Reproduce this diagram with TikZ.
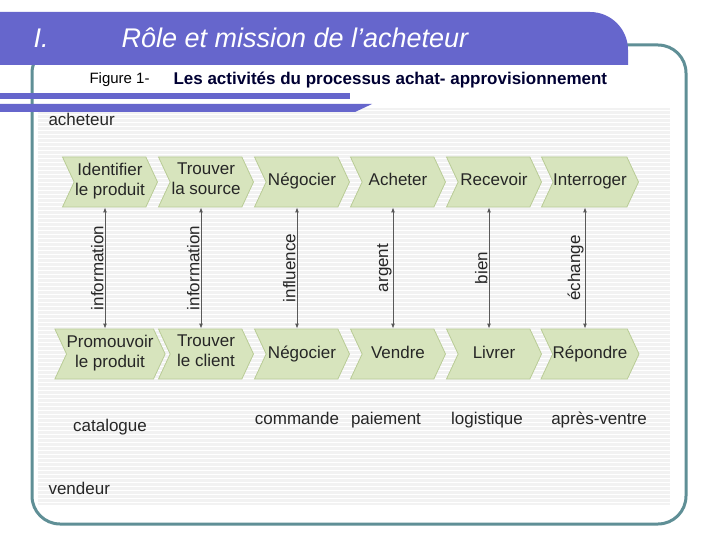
\documentclass[tikz,border=0pt]{standalone}
\usepackage{fontspec}
\setmainfont{Liberation Sans}
\usetikzlibrary{shapes.symbols,arrows.meta}
\definecolor{hdr}{HTML}{6666CC}
\definecolor{teal}{HTML}{5F8F96}
\definecolor{chev}{HTML}{D7E4BD}
\definecolor{chevb}{HTML}{B9CC96}
\definecolor{panel}{HTML}{F2F2F2}
\tikzset{
 chv/.style={shape=signal, signal from=west, signal to=east, signal pointer angle=130, fill=chev, draw=chevb, line width=0.8pt, minimum width=95pt, minimum height=50pt, inner sep=0pt, align=center, font=\fontsize{17}{20}\selectfont, text=black!85, execute at begin node=\strut, execute at end node=\strut},
 lnk/.style={gray!70!black, line width=0.9pt, {Latex[length=5pt,width=4pt]}-{Latex[length=5pt,width=4pt]}},
 lbl/.style={font=\fontsize{17}{18}\selectfont, rotate=90, text=black!85, inner sep=1pt},
 side/.style={font=\fontsize{17}{18}\selectfont, text=black!85, anchor=base}
}
\begin{document}
\begin{tikzpicture}[x=1pt,y=-1pt]
\useasboundingbox (0,0) rectangle (720,540);
\fill[white] (0,0) rectangle (720,540);
\draw[teal, line width=3pt, rounded corners=28pt] (32,45) rectangle (686,524);
\fill[panel] (38,108) rectangle (670,505);
\foreach \yy in {110,114,...,504} \draw[white, line width=0.6pt] (38,\yy) -- (670,\yy);
\fill[hdr] (0,12) -- (590,12) to[out=0,in=90] (628,50) -- (628,65) -- (0,65) -- cycle;
\node[font=\itshape\fontsize{27}{28}\selectfont, text=white, anchor=west] (t1) at (30,38) {I.};
\node[font=\itshape\fontsize{27}{28}\selectfont, text=white, anchor=west] (t2) at (118,38) {Rôle et mission de l’acheteur};
\fill[hdr] (0,93) -- (350,93) -- (350,99) -- (0,99) -- cycle;
\fill[hdr] (0,104) -- (372,104) -- (355,112) -- (0,112) -- cycle;
\node[anchor=west, font=\fontsize{15}{16}\selectfont] (fig) at (86,80) {Figure 1-};
\node[anchor=west, font=\bfseries\fontsize{17}{18}\selectfont, text=black!80!blue] (cap) at (170,80) {Les activités du processus achat- approvisionnement};
\node[side, anchor=base west] (ach) at (45,126) {acheteur};
\node[side, anchor=base west] (ven) at (45,494) {vendeur};
\node[chv] (a1) at (110,182) {Identifier\\le produit};
\node[chv] (a2) at (206,182) {Trouver\\la source};
\node[chv] (a3) at (302,182) {Négocier};
\node[chv] (a4) at (398,182) {Acheter};
\node[chv] (a5) at (494,182) {Recevoir};
\node[chv] (a6) at (590,182) {Interroger};
\node[chv] (b1) at (110,354) {Promouvoir\\le produit};
\node[chv] (b2) at (206,354) {Trouver\\le client};
\node[chv] (b3) at (302,354) {Négocier};
\node[chv] (b4) at (398,354) {Vendre};
\node[chv] (b5) at (494,354) {Livrer};
\node[chv] (b6) at (590,354) {Répondre};
\foreach \i/\t in {1/information,2/information,3/influence,4/argent,5/bien,6/échange}{
  \draw[lnk] ([xshift=-5pt]a\i.south) -- ([xshift=-5pt]b\i.north) node[midway, lbl, anchor=south] {\t};
}
\node[side] (c1) at (110,431) {catalogue};
\node[side] (c2) at (297,424) {commande};
\node[side] (c3) at (386,424) {paiement};
\node[side] (c4) at (487,424) {logistique};
\node[side] (c5) at (599,424) {après-ventre};
\end{tikzpicture}
\end{document}
